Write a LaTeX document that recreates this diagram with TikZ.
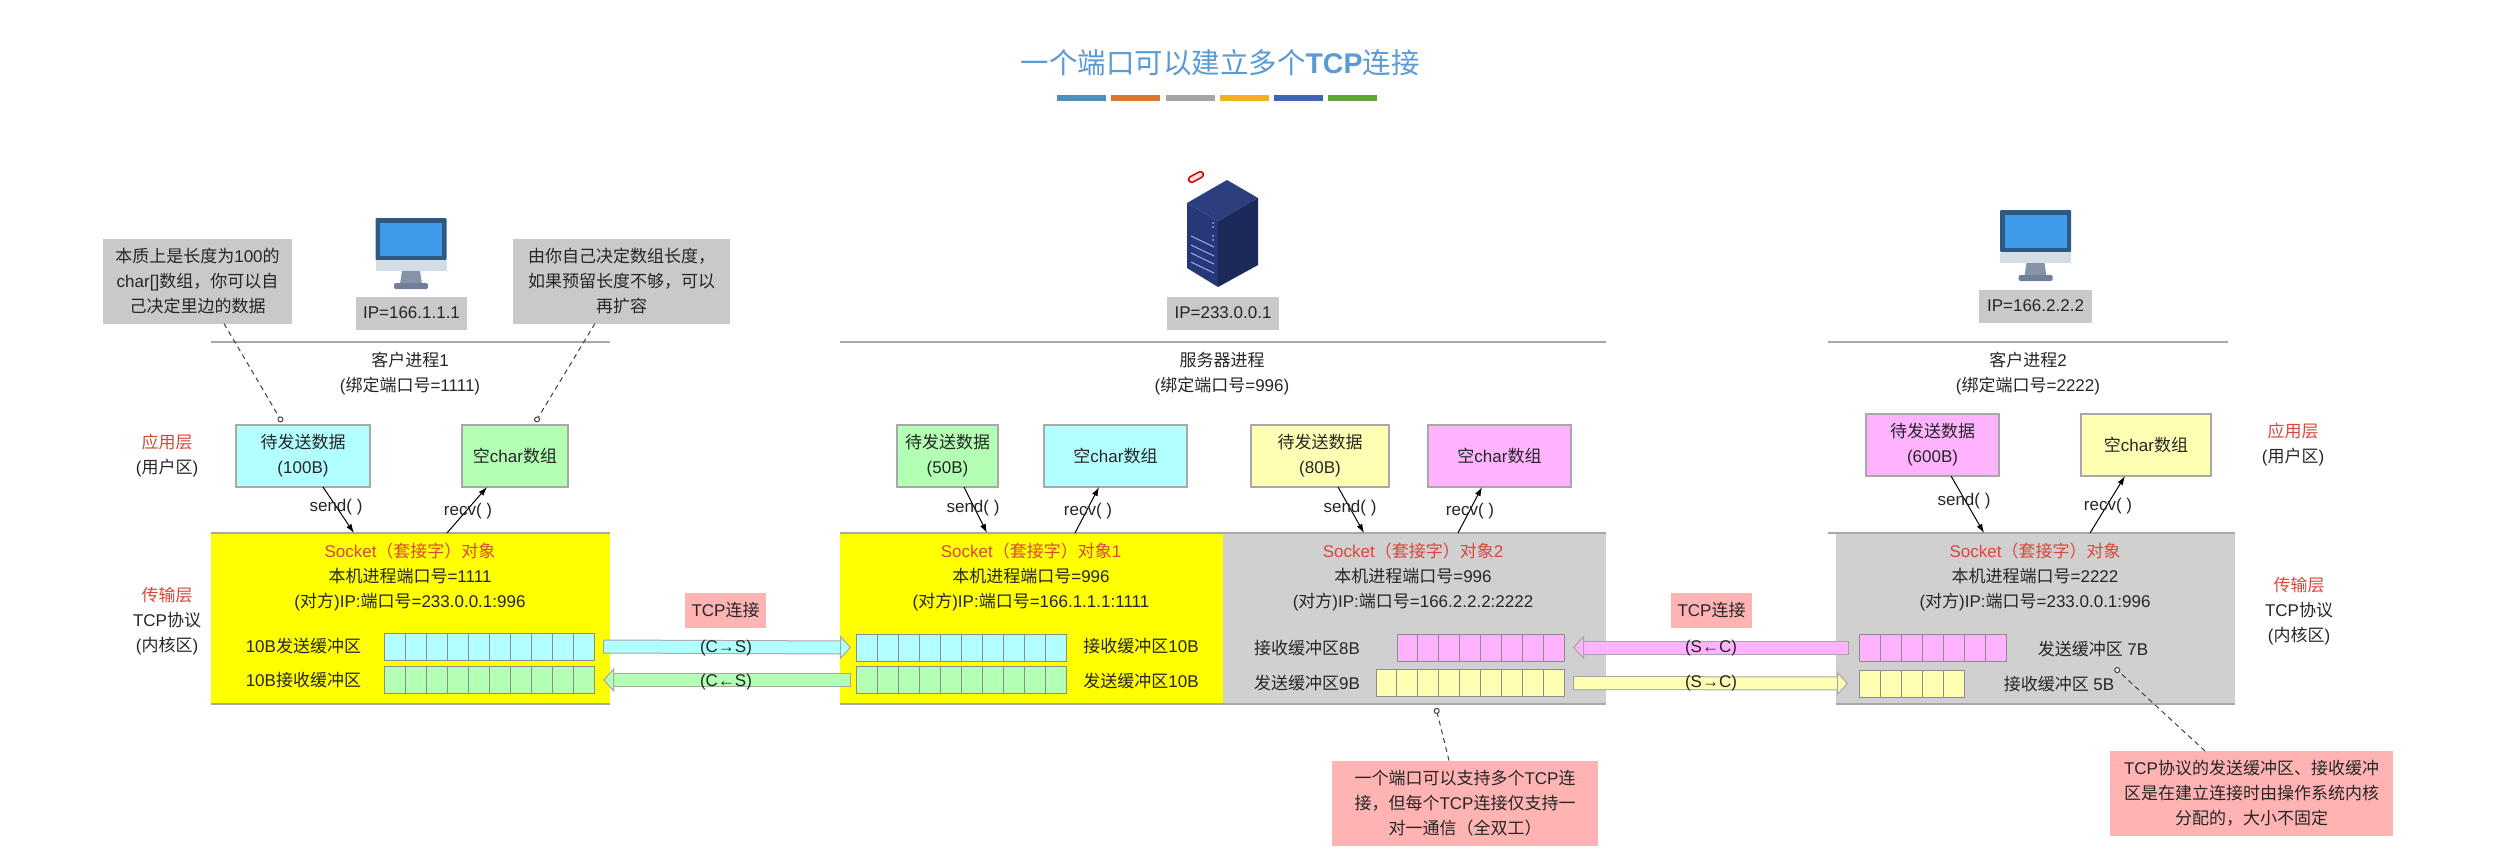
\documentclass[tikz,border=0pt]{standalone}
\usepackage{fontspec}
\setmainfont{Liberation Sans}
\newfontfamily\latinfont{Liberation Sans}
\newfontfamily\cjkfont{Noto Sans CJK SC}
\XeTeXinterchartokenstate=1
\newXeTeXintercharclass\cjkclass
\newcount\cjkchar
\cjkchar="4E00
\loop\ifnum\cjkchar<"A000 \XeTeXcharclass\cjkchar=\cjkclass \advance\cjkchar by 1 \repeat
\XeTeXcharclass"3001=\cjkclass
\XeTeXcharclass"FF08=\cjkclass
\XeTeXcharclass"FF09=\cjkclass
\XeTeXcharclass"FF0C=\cjkclass
\XeTeXinterchartoks 0 \cjkclass={\cjkfont}
\XeTeXinterchartoks 4095 \cjkclass={\cjkfont}
\XeTeXinterchartoks \cjkclass 0 ={\latinfont}
\XeTeXinterchartoks \cjkclass 4095 ={\latinfont}
\usepackage{tikz}
\usetikzlibrary{arrows.meta,calc,positioning}
\definecolor{cyanfill}{HTML}{B2FFFF}
\definecolor{greenfill}{HTML}{B3FFB3}
\definecolor{yellowfill}{HTML}{FFFFB3}
\definecolor{pinkfill}{HTML}{FFB3FF}
\definecolor{panelyellow}{HTML}{FFFF00}
\definecolor{notegray}{HTML}{C9C9C9}
\definecolor{panelgray}{HTML}{D0D0D0}
\definecolor{notered}{HTML}{FFB3B3}
\definecolor{linegray}{HTML}{A8A8A8}
\definecolor{layerred}{HTML}{D9483B}
\definecolor{titleblue}{HTML}{5B9BD5}
\tikzset{
plaintext/.style={
  inner sep=0pt,
  outer sep=0pt,
  align=center,
  text=black!85,
  font=\fontsize{17}{25}\selectfont,
  }
}
\tikzset{
databox/.style={
  plaintext,
  draw=linegray,
  line width=1.5pt,
  fill=#1,
  minimum height=62pt,
  }
}
\tikzset{
notebox/.style={
  plaintext,
  fill=#1,
  minimum height=85pt,
  }
}
\tikzset{
flatbox/.style={
  plaintext,
  fill=#1,
  minimum height=33pt,
  }
}
\tikzset{
panelbox/.style={
  plaintext,
  fill=#1,
  minimum height=171pt,
  }
}
\tikzset{
bufbox/.style={
  plaintext,
  draw=black!45,
  line width=1pt,
  fill=#1,
  minimum height=27pt,
  }
}
\tikzset{
callline/.style={
  line width=1pt,
  -{Latex[length=9pt,width=6pt]}
  }
}
\tikzset{
noteline/.style={
  line width=1pt,
  black!75,
  dash pattern=on 5pt off 4pt,
  -{Circle[open,length=6pt,width=6pt,fill=white]}
  }
}
\tikzset{
rimline/.style={
  line width=2pt,
  draw=linegray,
  }
}
\tikzset{
tube/.style={
  line width=1pt,
  draw=black!35,
  double=#1,
  double distance=12pt,
  {Bar[width=14pt,line width=1pt]}-{Triangle[fill=#1,length=11pt,width=24pt,line width=1pt]}
  }
}
\tikzset{
screen/.pic={
  \fill[rounded corners=1pt,fill={rgb,255:red,45;green,90;blue,130}] (-35.5,0) rectangle (35.5,42);
  \fill[fill={rgb,255:red,61;green,155;blue,233}] (-31,5) rectangle (31,38);
  \fill[fill={rgb,255:red,212;green,220;blue,230}] (-35.5,42) rectangle (35.5,53);
  \fill[fill={rgb,255:red,135;green,148;blue,168}] (-9,53) -- (9,53) -- (11,66) -- (-11,66) -- cycle;
  \fill[rounded corners=1.5pt,fill={rgb,255:red,112;green,128;blue,155}] (-17,65) rectangle (17,71);
  }
}
\newcommand{\bufcells}[2]{
  \foreach \i [evaluate=\i as \t using \i/#2] in {1,...,#2}
    \draw[line width=1pt,black!45] ($(#1.north west)!\t!(#1.north east)$) -- ($(#1.south west)!\t!(#1.south east)$);
}

\begin{document}
\begin{tikzpicture}[x=1pt,y=-1pt]
    \useasboundingbox (0,0) rectangle (2498,855);
    \fill[white] (0,0) rectangle (2498,855);

    \node[plaintext, text=titleblue, font=\fontsize{28.5}{32}\selectfont] (title) at (1220,63) {一个端口可以建立多个{\bfseries TCP}连接};
    \foreach \xa/\colr in {1057/4F8FC0,1111/D8772F,1166/A5A5A5,1220/EDB31E,1274/3F63B5,1328/5FA43F}{
      \definecolor{barcol}{HTML}{\colr}
      \fill[barcol] (\xa,95) rectangle +(49,6);
    }

    % hosts
    \pic at (411,218) {screen};
    \pic at (2035.5,210) {screen};
    \fill[fill={rgb,255:red,44;green,62;blue,126}] (1227,180) -- (1258,198) -- (1218,221) -- (1187,203) -- cycle;
    \fill[fill={rgb,255:red,38;green,56;blue,120}] (1187,203) -- (1218,221) -- (1218,287) -- (1187,268) -- cycle;
    \fill[fill={rgb,255:red,27;green,42;blue,88}] (1218,221) -- (1258,198) -- (1258,265) -- (1218,287) -- cycle;
    \foreach \ya in {236,245,253,262}
      \draw[line width=1pt,blue!35!white] (1191,\ya) -- (1214,\ya+11);
    \foreach \ya in {223,227,236,240}
      \fill[blue!35!white] (1213,\ya) circle (1pt);
    \draw[line width=1.5pt,draw=red!85!black,fill=red!12,rounded corners=3pt,rotate around={28:(1196,177)}] (1188,174) rectangle (1204,180);

    \node[flatbox=notegray, minimum width=111pt] (ipA) at (411.5,313) {IP=166.1.1.1};
    \node[flatbox=notegray, minimum width=112pt] (ipB) at (1223,313) {IP=233.0.0.1};
    \node[flatbox=notegray, minimum width=113pt] (ipC) at (2035.5,306) {IP=166.2.2.2};

    \draw[rimline] (211,342) -- (610,342);
    \draw[rimline] (840,342) -- (1606,342);
    \draw[rimline] (1828,342) -- (2228,342);

    \node[plaintext] (procA) at (410,374) {客户进程1\\(绑定端口号=1111)};
    \node[plaintext] (procB) at (1222,374) {服务器进程\\(绑定端口号=996)};
    \node[plaintext] (procC) at (2028,374) {客户进程2\\(绑定端口号=2222)};

    % layers
    \node[plaintext] (appA) at (167,456) {\textcolor{layerred}{应用层}\\(用户区)};
    \node[plaintext] (netA) at (167,621) {\textcolor{layerred}{传输层}\\TCP协议\\(内核区)};
    \node[plaintext] (appC) at (2293,445) {\textcolor{layerred}{应用层}\\(用户区)};
    \node[plaintext] (netC) at (2299,611) {\textcolor{layerred}{传输层}\\TCP协议\\(内核区)};

    % socket panels
    \node[panelbox=panelyellow, minimum width=399pt] (sockA) at (410.5,618.5) {};
    \node[panelbox=panelyellow, minimum width=383pt] (sockB) at (1031.5,618.5) {};
    \node[panelbox=panelgray, minimum width=383pt] (sockC) at (1414.5,618.5) {};
    \node[panelbox=panelgray, minimum width=399pt] (sockD) at (2035.5,618.5) {};
    \foreach \a/\b in {sockA/sockA,sockB/sockC}{
      \draw[rimline] (\a.north west) -- (\b.north east);
      \draw[rimline] (\a.south west) -- (\b.south east);
    }
    \draw[rimline] ([xshift=-8pt]sockD.north west) -- (sockD.north east);
    \draw[rimline] (sockD.south west) -- (sockD.south east);

    \node[plaintext] (infoA) at (410,577) {\textcolor{layerred}{Socket（套接字）对象}\\本机进程端口号=1111\\(对方)IP:端口号=233.0.0.1:996};
    \node[plaintext] (infoB) at (1031,577) {\textcolor{layerred}{Socket（套接字）对象1}\\本机进程端口号=996\\(对方)IP:端口号=166.1.1.1:1111};
    \node[plaintext] (infoC) at (1413,577) {\textcolor{layerred}{Socket（套接字）对象2}\\本机进程端口号=996\\(对方)IP:端口号=166.2.2.2:2222};
    \node[plaintext] (infoD) at (2035,577) {\textcolor{layerred}{Socket（套接字）对象}\\本机进程端口号=2222\\(对方)IP:端口号=233.0.0.1:996};

    % data boxes
    \node[databox=cyanfill, minimum width=134pt] (dataA) at (303,456) {待发送数据\\(100B)};
    \node[databox=greenfill, minimum width=106pt] (emptyA) at (515,456) {空char数组};
    \node[databox=greenfill, minimum width=101pt] (dataB) at (947.5,456) {待发送数据\\(50B)};
    \node[databox=cyanfill, minimum width=143pt] (emptyB) at (1115.5,456) {空char数组};
    \node[databox=yellowfill, minimum width=138pt] (dataC) at (1320,456) {待发送数据\\(80B)};
    \node[databox=pinkfill, minimum width=143pt] (emptyC) at (1499.5,456) {空char数组};
    \node[databox=pinkfill, minimum width=133pt] (dataD) at (1932.5,445) {待发送数据\\(600B)};
    \node[databox=yellowfill, minimum width=130pt] (emptyD) at (2146,445) {空char数组};

    \draw[callline] ([xshift=20pt]dataA.south) -- ([xshift=-56.5pt]sockA.north);
    \draw[callline] ([xshift=36.5pt]sockA.north) -- ([xshift=-28pt]emptyA.south);
    \draw[callline] ([xshift=16.5pt]dataB.south) -- ([xshift=-44.5pt]sockB.north);
    \draw[callline] ([xshift=43.5pt]sockB.north) -- ([xshift=-16.5pt]emptyB.south);
    \draw[callline] ([xshift=18pt]dataC.south) -- ([xshift=-50.5pt]sockC.north);
    \draw[callline] ([xshift=43.5pt]sockC.north) -- ([xshift=-17.5pt]emptyC.south);
    \draw[callline] ([xshift=18.5pt]dataD.south) -- ([xshift=-51.5pt]sockD.north);
    \draw[callline] ([xshift=54.5pt]sockD.north) -- ([xshift=-21pt]emptyD.south);

    \node[plaintext] (sendA) at (336,507) {send( )};
    \node[plaintext] (recvA) at (468,511) {recv( )};
    \node[plaintext] (sendB) at (973,508) {send( )};
    \node[plaintext] (recvB) at (1088,511) {recv( )};
    \node[plaintext] (sendC) at (1350,508) {send( )};
    \node[plaintext] (recvC) at (1470,511) {recv( )};
    \node[plaintext] (sendD) at (1964,501) {send( )};
    \node[plaintext] (recvD) at (2108,506) {recv( )};

    % buffers
    \node[bufbox=cyanfill, minimum width=210pt] (bufsendA) at (489,646.5) {};
    \node[bufbox=greenfill, minimum width=210pt] (bufrecvA) at (489,680) {};
    \node[bufbox=cyanfill, minimum width=210pt] (bufrecvB) at (961,647.5) {};
    \node[bufbox=greenfill, minimum width=210pt] (bufsendB) at (961,680) {};
    \node[bufbox=pinkfill, minimum width=167pt] (bufrecvC) at (1480.5,647.5) {};
    \node[bufbox=yellowfill, minimum width=188pt] (bufsendC) at (1470,683) {};
    \node[bufbox=pinkfill, minimum width=147pt] (bufsendD) at (1932.5,647.5) {};
    \node[bufbox=yellowfill, minimum width=105pt] (bufrecvD) at (1911.5,683.5) {};
    \bufcells{bufsendA}{10}
    \bufcells{bufrecvA}{10}
    \bufcells{bufrecvB}{10}
    \bufcells{bufsendB}{10}
    \bufcells{bufrecvC}{8}
    \bufcells{bufsendC}{9}
    \bufcells{bufsendD}{7}
    \bufcells{bufrecvD}{5}

    \node[plaintext, left=23pt of bufsendA] (lblsendA) {10B发送缓冲区};
    \node[plaintext, left=23pt of bufrecvA] (lblrecvA) {10B接收缓冲区};
    \node[plaintext] (lblrecvB) at (1141,646) {接收缓冲区10B};
    \node[plaintext] (lblsendB) at (1141,681) {发送缓冲区10B};
    \node[plaintext] (lblrecvC) at (1307,648) {接收缓冲区8B};
    \node[plaintext] (lblsendC) at (1307,683) {发送缓冲区9B};
    \node[plaintext] (lblsendD) at (2093,649) {发送缓冲区 7B};
    \node[plaintext] (lblrecvD) at (2059,684) {接收缓冲区 5B};

    % tcp connections
    \draw[tube=cyanfill] ([xshift=9pt]bufsendA.east) -- ([xshift=-5pt]bufrecvB.west);
    \draw[tube=greenfill] ([xshift=-5pt]bufsendB.west) -- ([xshift=9pt]bufrecvA.east);
    \draw[tube=pinkfill] ([xshift=-10pt]bufsendD.west) -- ([xshift=9pt]bufrecvC.east);
    \draw[tube=yellowfill] ([xshift=9pt]bufsendC.east) -- ([xshift=-11pt]bufrecvD.west);

    \node[flatbox=notered, minimum width=81pt, minimum height=35pt] (tcpA) at (725.5,610.5) {TCP连接};
    \node[flatbox=notered, minimum width=81pt, minimum height=35pt] (tcpB) at (1711.5,610.5) {TCP连接};
    \node[plaintext] (dirA) at (726,648) {(C→S)};
    \node[plaintext] (dirB) at (726,682) {(C←S)};
    \node[plaintext] (dirC) at (1711,648) {(S←C)};
    \node[plaintext] (dirD) at (1711,683) {(S→C)};

    % notes
    \node[notebox=notegray, minimum width=189pt] (noteA) at (197.5,281) {本质上是长度为100的\\char[]数组，你可以自\\己决定里边的数据};
    \node[notebox=notegray, minimum width=217pt] (noteB) at (621.5,281) {由你自己决定数组长度，\\如果预留长度不够，可以\\再扩容};
    \node[notebox=notered, minimum width=266pt] (noteC) at (1465,803) {一个端口可以支持多个TCP连\\接，但每个TCP连接仅支持一\\对一通信（全双工）};
    \node[notebox=notered, minimum width=283pt] (noteD) at (2251.5,793.5) {TCP协议的发送缓冲区、接收缓冲\\区是在建立连接时由操作系统内核\\分配的，大小不固定};

    \coordinate (holdD) at (2115,668);
    \draw[noteline] ([xshift=26.5pt]noteA.south) -- ([xshift=-21pt,yshift=3pt]dataA.north);
    \draw[noteline] ([xshift=-26.5pt]noteB.south) -- ([xshift=20.5pt,yshift=3pt]emptyA.north);
    \draw[noteline] ([xshift=-16pt]noteC.north) -- ([xshift=21.5pt,yshift=-4pt]sockC.south);
    \draw[noteline] ([xshift=-46.5pt]noteD.north) -- (holdD);
\end{tikzpicture}
\end{document}
